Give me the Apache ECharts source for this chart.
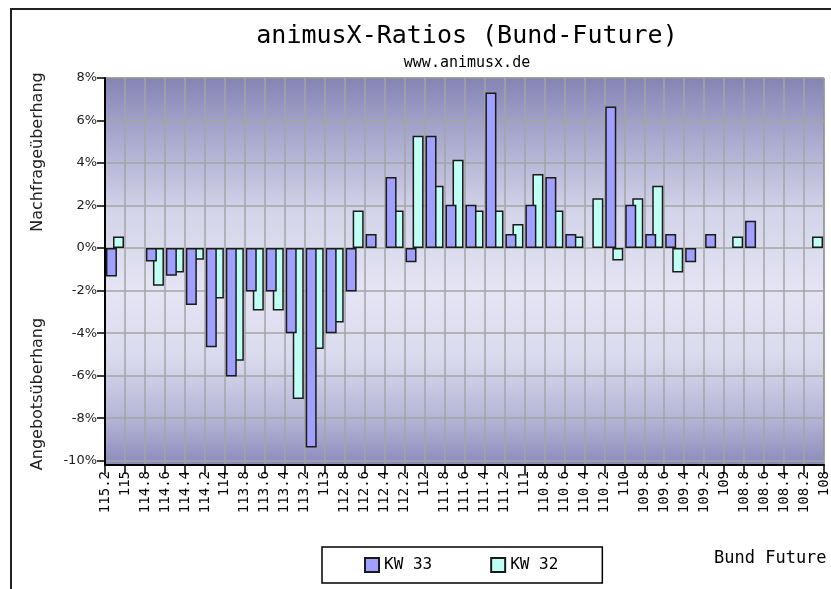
<!DOCTYPE html>
<html>
<head>
<meta charset="utf-8">
<script src="https://cdn.jsdelivr.net/npm/echarts@6/dist/echarts.min.js"></script>
<style>
html,body{margin:0;padding:0;background:#fff;}
#chart{width:831px;height:589px;}
</style>
</head>
<body>
<div id="chart"></div>
<script>
// Tick labels at the category boundaries (left to right)
const tickLabels = ['115.2','115','114.8','114.6','114.4','114.2','114','113.8','113.6','113.4','113.2','113',
  '112.8','112.6','112.4','112.2','112','111.8','111.6','111.4','111.2','111','110.8','110.6','110.4','110.2',
  '110','109.8','109.6','109.4','109.2','109','108.8','108.6','108.4','108.2','108'];
// Price bands (between two tick labels)
const categories = tickLabels.slice(0, -1).map((t, i) => t + '-' + tickLabels[i + 1]);
// KW 33 values in %
const kw33 = [-1.34, null, -0.63, -1.3, -2.68, -4.66, -6.04, -2.04, -2.04, -4.0, -9.38, -4.0,
  -2.04, 0.66, 3.34, -0.66, 5.28, 2.04, 2.04, 7.32, 0.66, 2.04, 3.34, 0.66,
  null, 6.66, 2.04, 0.66, 0.66, -0.66, 0.66, null, 1.29, null, null, null];
// KW 32 values in %
const kw32 = [0.55, null, -1.77, -1.15, -0.55, -2.37, -5.3, -2.93, -2.93, -7.1, -4.75, -3.5,
  1.77, null, 1.77, 5.28, 2.93, 4.15, 1.77, 1.77, 1.13, 3.48, 1.77, 0.55,
  2.35, -0.58, 2.35, 2.93, -1.15, null, null, 0.55, null, null, null, 0.55];
const yTicks = [-10, -8, -6, -4, -2, 0, 2, 4, 6, 8];

const chart = echarts.init(document.getElementById('chart'));
const mono = 'DejaVu Sans Mono';
const sans = 'DejaVu Sans';
chart.setOption({
  animation: false,
  backgroundColor: '#fff',
  title: [
    {text: 'animusX-Ratios (Bund-Future)', left: 462, top: 19, textAlign: 'center',
     textStyle: {fontFamily: mono, fontSize: 25, fontWeight: 'normal', color: '#000'}},
    {text: 'www.animusx.de', left: 462, top: 51, textAlign: 'center',
     textStyle: {fontFamily: mono, fontSize: 15, fontWeight: 'normal', color: '#000'}}
  ],
  legend: {
    data: ['KW 33', 'KW 32'],
    left: 322, top: 547,
    orient: 'horizontal',
    padding: [10, 44, 10, 42],
    itemGap: 58,
    itemWidth: 14, itemHeight: 14,
    icon: 'rect',
    borderColor: '#000', borderWidth: 1.5,
    backgroundColor: '#fff',
    textStyle: {fontFamily: mono, fontSize: 16, color: '#000'}
  },
  grid: {
    left: 105, right: 7, top: 78, bottom: 124,
    show: true,
    borderColor: '#333', borderWidth: 1,
    backgroundColor: new echarts.graphic.LinearGradient(0, 0, 0, 1, [
      {offset: 0, color: '#8484b4'},
      {offset: 0.15, color: '#a8a8ce'},
      {offset: 0.35, color: '#d4d4ea'},
      {offset: 0.55, color: '#e4e4f4'},
      {offset: 0.72, color: '#dadaee'},
      {offset: 0.88, color: '#b4b4d6'},
      {offset: 1, color: '#8a8abb'}
    ])
  },
  xAxis: [
    {type: 'category', data: categories, show: false, boundaryGap: true},
    {type: 'category', data: tickLabels, boundaryGap: false, position: 'bottom',
     axisLine: {show: true, lineStyle: {color: '#000', width: 2}},
     axisTick: {show: true, interval: 0, length: 9, lineStyle: {color: '#000', width: 1.5}},
     axisLabel: {interval: 0, rotate: 90, margin: 6, fontFamily: mono, fontSize: 14, color: '#000'},
     splitLine: {show: true, interval: 0, lineStyle: {color: '#a4a4a4', width: 1.5}}}
  ],
  yAxis: {
    type: 'value', min: -10.2, max: 8, splitNumber: 9,
    axisLine: {show: true, lineStyle: {color: '#000', width: 2}},
    axisTick: {show: true, length: 8, customValues: yTicks, lineStyle: {color: '#000', width: 1.5}},
    axisLabel: {customValues: yTicks, margin: 8, fontFamily: sans, fontSize: 13, color: '#222',
      formatter: v => Math.round(v) + '%'},
    splitLine: {show: true, lineStyle: {color: '#a4a4a4', width: 1.5}}
  },
  series: [
    {name: 'KW 33', type: 'bar', xAxisIndex: 0, data: kw33, barWidth: 11, barGap: '-36%', z: 3,
     itemStyle: {color: '#a0a0ff', borderColor: '#1a1a1a', borderWidth: 1.5}},
    {name: 'KW 32', type: 'bar', xAxisIndex: 0, data: kw32, barWidth: 11, barGap: '-36%', z: 2,
     itemStyle: {color: '#bffff4', borderColor: '#1a1a1a', borderWidth: 1.5}}
  ],
  graphic: [
    {type: 'rect', silent: true, z: -10, shape: {x: 11, y: 9, width: 840, height: 600},
     style: {fill: 'none', stroke: '#222', lineWidth: 2}},
    {type: 'text', x: 38, y: 152, rotation: Math.PI / 2,
     style: {text: 'Nachfrageüberhang', font: '16px "DejaVu Sans"', fill: '#222',
       textAlign: 'center', textVerticalAlign: 'middle'}},
    {type: 'text', x: 38, y: 394, rotation: Math.PI / 2,
     style: {text: 'Angebotsüberhang', font: '16px "DejaVu Sans"', fill: '#222',
       textAlign: 'center', textVerticalAlign: 'middle'}},
    {type: 'text', x: 714, y: 550,
     style: {text: 'Bund Future', font: '17px "DejaVu Sans Mono"', fill: '#000'}}
  ]
});
</script>
</body>
</html>
